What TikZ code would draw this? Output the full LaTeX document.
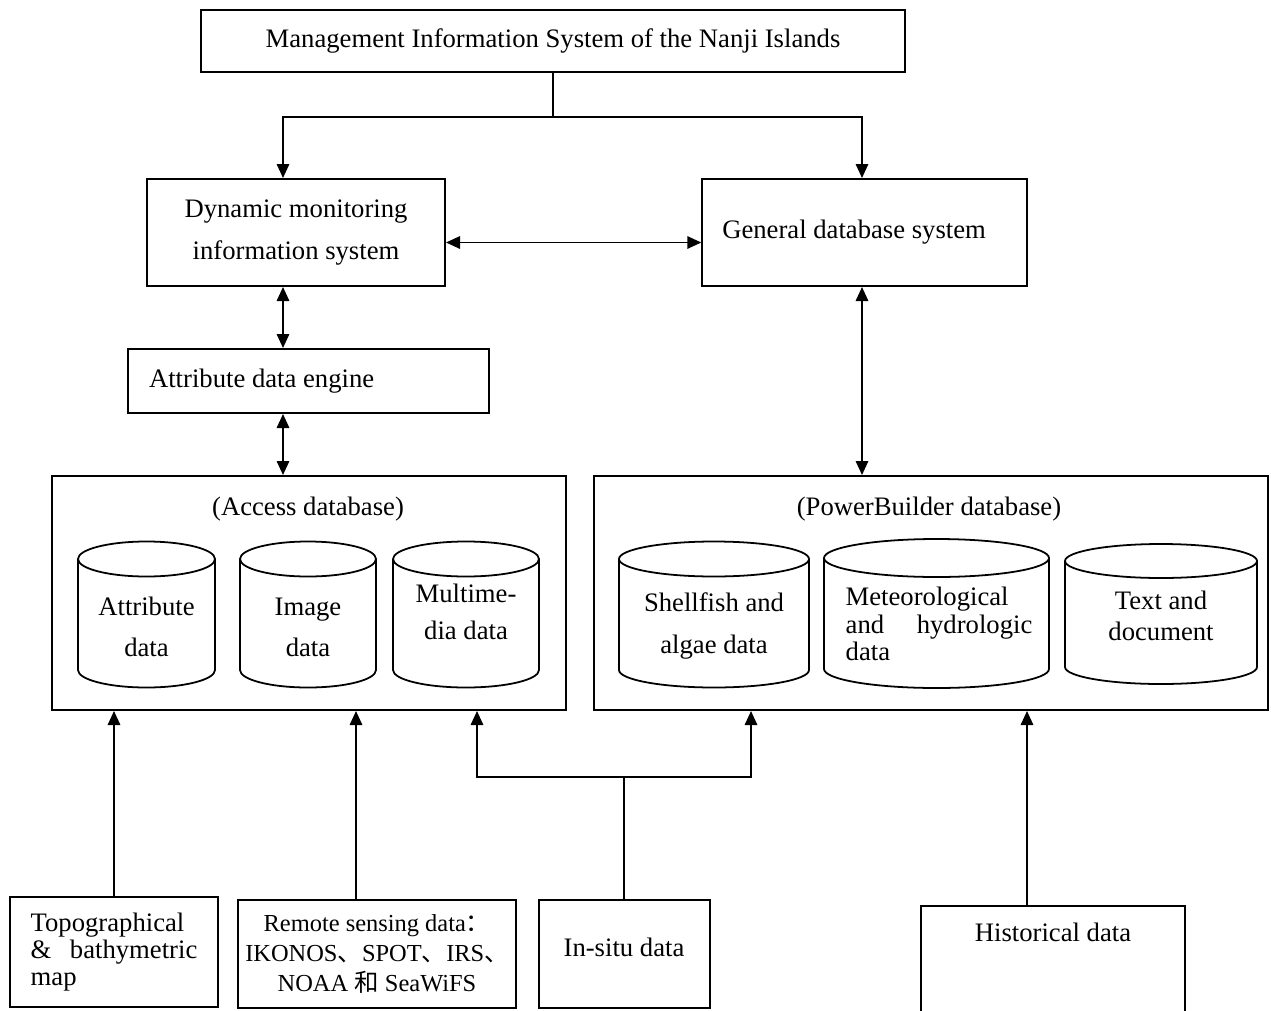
\documentclass[tikz,border=0pt]{standalone}
\usepackage{fontspec}
\setmainfont{Liberation Serif}
\newfontfamily\cjk{Noto Sans CJK SC}
\usetikzlibrary{arrows.meta,positioning,calc}
\newdimen\px
\px=0.45pt

\begin{document}
\begin{tikzpicture}[
    x=\px, y=-\px,
    font=\fontsize{12}{18.5}\selectfont,
    >={Triangle[length=6.3pt,width=5.6pt]},
    blk/.style={draw, line width=0.9pt, inner sep=0pt, align=center},
    cyl/.style={line width=0.8pt},
    lbl/.style={inner sep=0pt, align=center},
    arr/.style={->, line width=0.8pt},
    darr/.style={<->, line width=0.8pt},
  ]
  \useasboundingbox (0,0) rectangle (1271,1010);
  % top level
  \node[blk, minimum width=704*\px, minimum height=62*\px] (mis) at (553,41)
       {Management Information System of the Nanji Islands};
  % systems
  \node[blk, minimum width=298*\px, minimum height=107*\px] (dyn) at (296,232.5)
       {Dynamic monitoring\\information system};
  \node[blk, minimum height=107*\px, text width=128pt, inner xsep=9pt, align=flush left]
       (gen) at (864.5,232.5) {General database system};
  \node[blk, minimum height=64*\px, text width=143.5pt, inner xsep=9.5pt, align=flush left]
       (eng) at (308.5,381) {Attribute data engine};
  % database frames
  \node[blk, minimum width=514*\px, minimum height=234*\px] (acc) at (309,593) {};
  \node[blk, minimum width=674*\px, minimum height=234*\px] (pb) at (931,593) {};
  \node (acct) at (308,509) {(Access database)};
  \node (pbt) at (929,509) {(PowerBuilder database)};
  % cylinders: name/x/y/width/height/cap
  \foreach \n/\cx/\cy/\w/\h/\r in {attr/146.5/614.5/137/146/17.5, img/308/614.5/136/146/17.5,
      mm/466/614.5/146/146/17.5, shell/714/614.5/190/146/17.5,
      met/936.5/613.5/225/149/19, txt/1161/614/192/140/17}{
    \node[inner sep=0pt, minimum width=\w*\px, minimum height=\h*\px] (\n) at (\cx,\cy) {};
    \draw[cyl] (\cx,\cy-\h/2+\r) ellipse [x radius=\w/2*\px, y radius=\r*\px];
    \draw[cyl] (\cx-\w/2,\cy-\h/2+\r) -- (\cx-\w/2,\cy+\h/2-\r)
      arc [start angle=180, end angle=360, x radius=\w/2*\px, y radius=\r*\px]
      -- (\cx+\w/2,\cy-\h/2+\r);
  }
  \node[lbl] (attrl) at (attr |- 0,627) {Attribute\\data};
  \node[lbl] (imgl) at (img |- 0,627) {Image\\data};
  \node[lbl, font=\fontsize{12}{16.6}\selectfont] (mml) at (mm |- 0,612) {Multime-\\dia data};
  \node[lbl] (shelll) at (shell |- 0,626) {Shellfish and\\algae data};
  \node[lbl, text width=84pt, align=flush left, font=\fontsize{12}{12.4}\selectfont]
       (metl) at (939,624) {Meteorological\\and\hfill hydrologic\\data};
  \node[lbl, font=\fontsize{12}{14}\selectfont] (txtl) at (txt |- 0,616) {Text and\\document};
  % sources
  \node[blk, minimum width=208*\px, minimum height=110*\px, text width=75pt, align=flush left,
        font=\fontsize{12}{12.2}\selectfont] (topo) at (114,952)
       {Topographical\\\&\hfill bathymetric\\map};
  \node[blk, minimum width=278*\px, minimum height=108*\px,
        font=\fontsize{11}{13.3}\selectfont] (rs) at (377,954)
       {Remote sensing data{\cjk ：}\\IKONOS{\cjk 、}SPOT{\cjk 、}IRS{\cjk 、}\\NOAA {\cjk 和} SeaWiFS};
  \node[blk, minimum width=171*\px, minimum height=108*\px, text depth=6pt] (ins) at (624,954)
       {In-situ data};
  \node[draw, line width=0.9pt, minimum width=264*\px, inner sep=0pt, text height=16pt,
        text depth=36pt, anchor=north] (hist) at (1053,904.5) {Historical data};
  % links
  \coordinate (split) at (553,117);
  \coordinate (lx) at (283,0);
  \coordinate (rx) at (862,0);
  \draw[line width=0.8pt] (mis.south) -- (split);
  \draw[arr] (split) -| (lx |- dyn.north);
  \draw[arr] (split) -| (rx |- gen.north);
  \draw[darr] (dyn.east |- 0,242.5) -- (gen.west |- 0,242.5);
  \draw[darr] (lx |- dyn.south) -- (lx |- eng.north);
  \draw[darr] (lx |- eng.south) -- (lx |- acc.north);
  \draw[darr] (rx |- gen.south) -- (rx |- pb.north);
  \draw[arr] (topo.north) -- (topo.north |- acc.south);
  \draw[arr] ([xshift=-21*\px]rs.north) -- ([xshift=-21*\px]rs.north |- acc.south);
  \coordinate (insj) at (ins.north |- 0,777);
  \draw[line width=0.8pt] (ins.north) -- (insj);
  \draw[arr] (insj) -| (477,0 |- acc.south);
  \draw[arr] (insj) -| (751,0 |- pb.south);
  \draw[arr] ([xshift=-26*\px]hist.north) -- ([xshift=-26*\px]hist.north |- pb.south);
\end{tikzpicture}
\end{document}
